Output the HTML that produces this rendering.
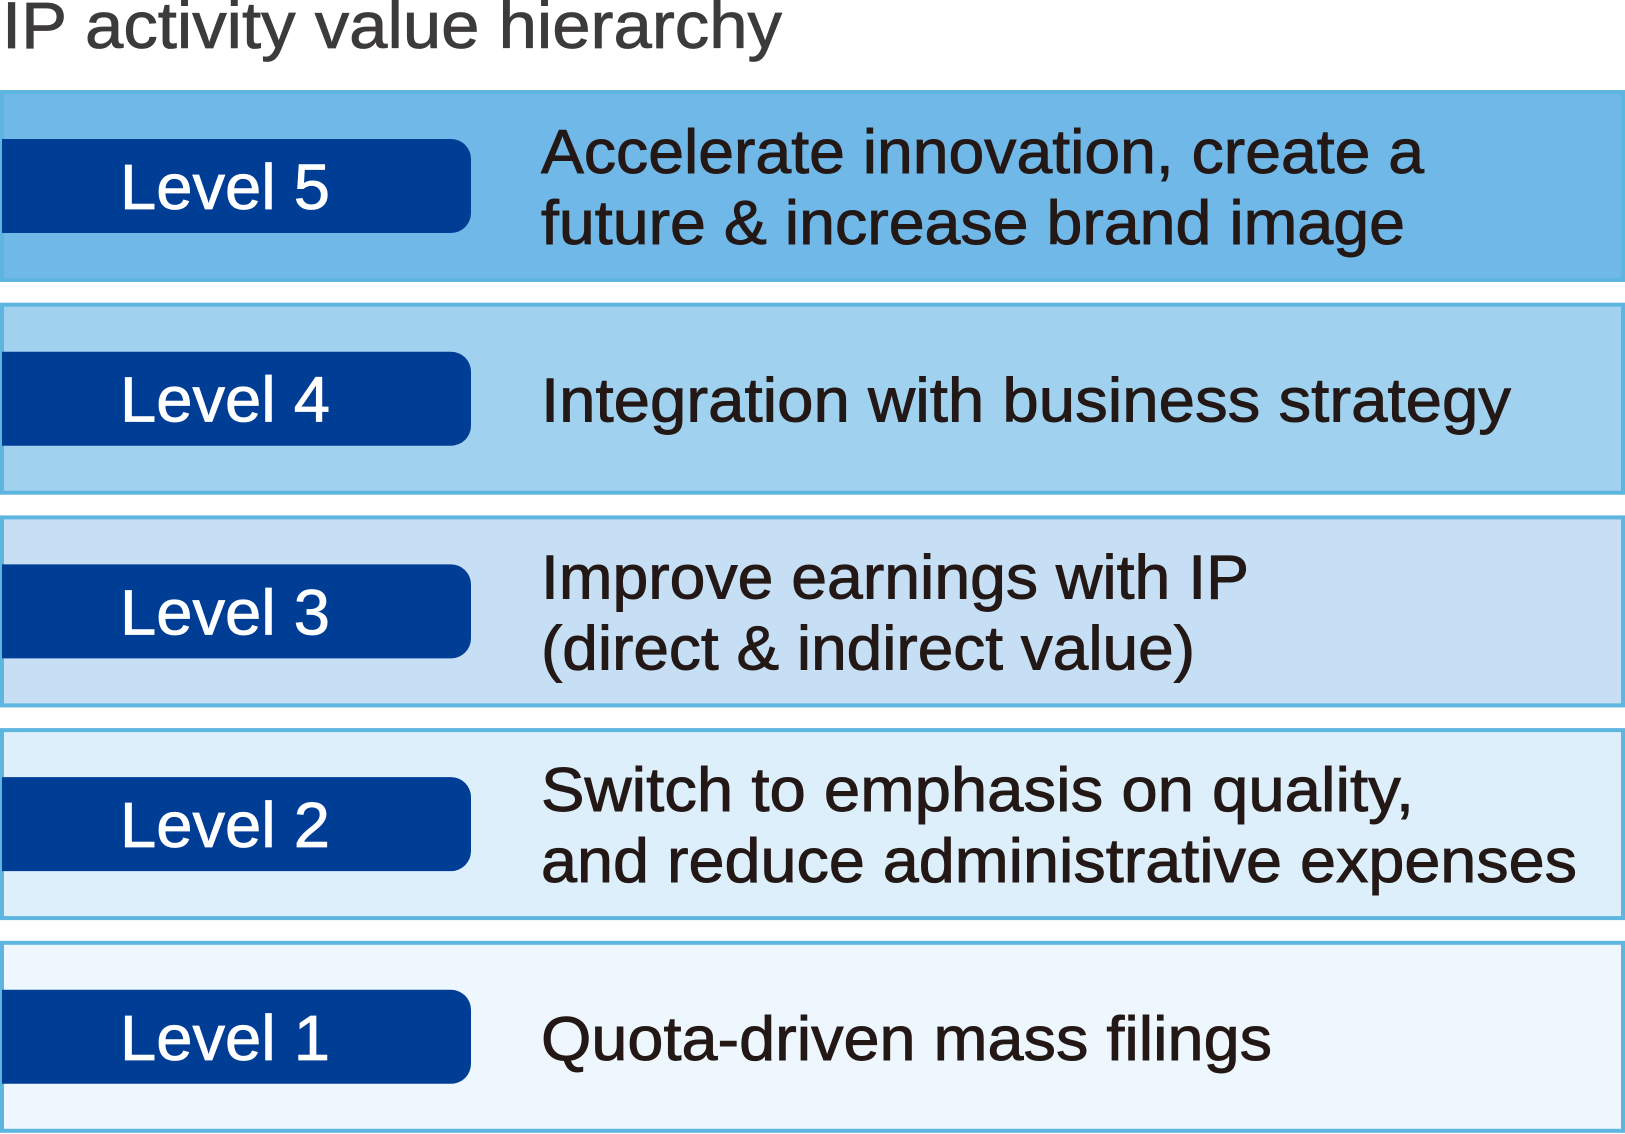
<!DOCTYPE html>
<html><head><meta charset="utf-8"><style>
html,body{margin:0;padding:0;background:#fff;width:1625px;height:1134px;overflow:hidden}
text{font-family:"Liberation Sans",sans-serif}
</style></head><body>
<svg id="chart" width="1625" height="1134" viewBox="0 0 1625 1134" xmlns="http://www.w3.org/2000/svg">
<text x="2" y="48" font-size="66" fill="#3d3a3b" stroke="#3d3a3b" stroke-width="0.8" textLength="780" lengthAdjust="spacingAndGlyphs">IP activity value hierarchy</text>
<g id="bands"></g>
</svg>
<script>
const levels = ["Level 5","Level 4","Level 3","Level 2","Level 1"];
const descriptions = [
  ["Accelerate innovation, create a","future & increase brand image"],
  ["Integration with business strategy"],
  ["Improve earnings with IP","(direct & indirect value)"],
  ["Switch to emphasis on quality,","and reduce administrative expenses"],
  ["Quota-driven mass filings"]
];
const lineWidths = [[883,864],[970],[708,654],[873,1036],[731]];
const fills = ["#6fb8e8","#a0d2f0","#c6dff4","#ddeffa","#eef7fd"];
const NS="http://www.w3.org/2000/svg";
const g=document.getElementById('bands');
const top0=90, bandH=192, step=212.7;
function mk(tag,attrs){const e=document.createElementNS(NS,tag);for(const k in attrs)e.setAttribute(k,attrs[k]);return e;}
levels.forEach((lv,i)=>{
  const y=top0+i*step;
  const band=mk('rect',{x:2,y:y+2,width:1621,height:bandH-4,fill:fills[i],stroke:"#5eb5e0","stroke-width":4});
  
  
  g.appendChild(band);
  const cy=y+bandH/2;
  const box=mk('path',{d:`M2 ${cy-47} H451 a20 20 0 0 1 20 20 V${cy+27} a20 20 0 0 1 -20 20 H2 Z`,fill:"#003e96"});
  
  
  g.appendChild(box);
  const t=mk('text',{x:225,y:cy+23,"font-size":64,fill:"#fff",stroke:"#fff","stroke-width":0.8,"text-anchor":"middle",textLength:210,lengthAdjust:"spacingAndGlyphs"});
  t.textContent=lv;
  
  
  g.appendChild(t);
  const lines=descriptions[i];
  const base = lines.length===1 ? cy+23 : cy-13;
  lines.forEach((ln,j)=>{
    const d=mk('text',{x:541,y:base+j*71,"font-size":62,fill:"#231816",stroke:"#231816","stroke-width":0.9,textLength:lineWidths[i][j],lengthAdjust:"spacingAndGlyphs"});
    d.textContent=ln;
    
    
    g.appendChild(d);
  });
});
</script>
</body></html>
